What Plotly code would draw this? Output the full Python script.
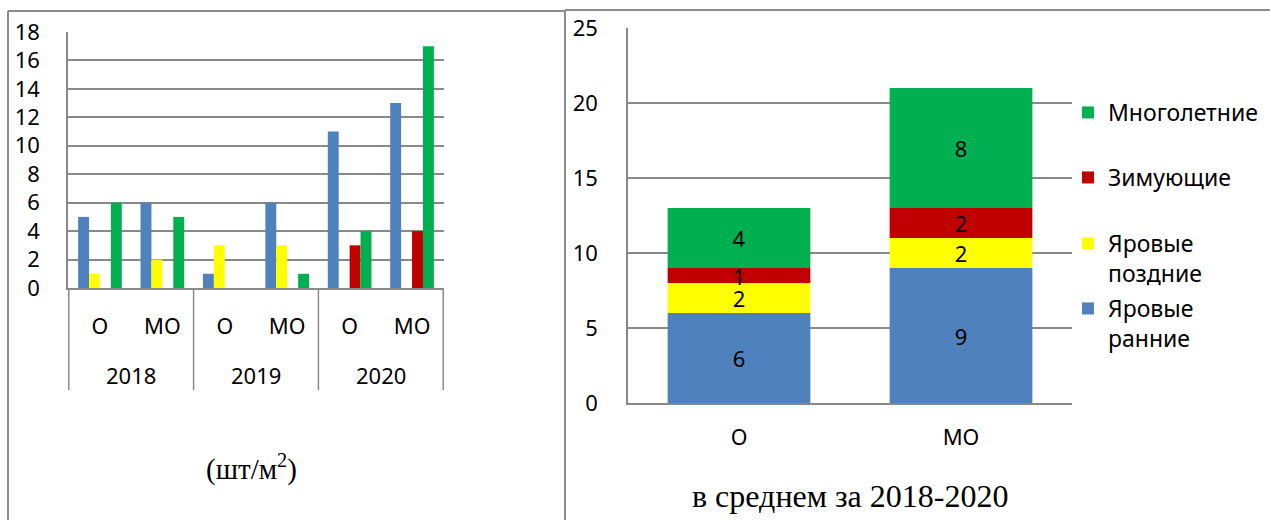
import plotly.graph_objects as go

# --- data -------------------------------------------------------------
years = ["2018", "2019", "2020"]
plots = ["О", "МО"]
series_names = ["Яровые ранние", "Яровые поздние", "Зимующие", "Многолетние"]
series_colors = ["#4F81BD", "#FFFF00", "#C00000", "#00B050"]

# density by year and plot (шт/м²), order: 2018 О, 2018 МО, 2019 О, ...
early = [5, 6, 1, 6, 11, 13]
late = [1, 2, 3, 3, 0, 0]
winter = [0, 0, 0, 0, 3, 4]
perennial = [6, 5, 0, 1, 4, 17]

# averages for 2018-2020
avg_plots = ["О", "МО"]
avg_early = [6, 9]
avg_late = [2, 2]
avg_winter = [1, 2]
avg_perennial = [4, 8]

left_ticks = [0, 2, 4, 6, 8, 10, 12, 14, 16, 18]
right_ticks = [0, 5, 10, 15, 20, 25]

# --- helpers ----------------------------------------------------------
W, H = 1270, 520
def px(x):
    return x / W
def py(y):
    return 1 - y / H

GRID = "#898989"
FONT = "Noto Sans"
SERIF = "Liberation Serif"

keys = [f"{y} {p}" for y in years for p in plots]
labels = [p for y in years for p in plots]

fig = go.Figure()

# left: grouped bars per year/plot
for name, color, vals in zip(series_names, series_colors,
                             [early, late, winter, perennial]):
    fig.add_trace(go.Bar(
        x=keys, y=vals, name=name, marker_color=color,
        marker_line_width=0, showlegend=False,
        xaxis="x", yaxis="y",
    ))

# right: stacked averages (bases accumulated from the series below)
avg_series = [avg_early, avg_late, avg_winter, avg_perennial]
legend_ids = ["legend4", "legend3", "legend2", "legend"]
legend_text = ["Яровые<br>ранние", "Яровые<br>поздние", "Зимующие", "Многолетние"]
base = [0] * len(avg_plots)
for name, color, vals, lg, lt in zip(series_names, series_colors, avg_series,
                                     legend_ids, legend_text):
    fig.add_trace(go.Bar(
        x=avg_plots, y=vals, base=list(base), name=lt,
        marker_color=color, marker_line_width=0, width=0.643,
        offsetgroup="avg", legend=lg,
        text=[str(v) for v in vals], textposition="inside",
        insidetextanchor="middle", textangle=0, constraintext="none",
        textfont=dict(family=FONT, size=22, color="black"),
        xaxis="x2", yaxis="y2",
    ))
    base = [b + v for b, v in zip(base, vals)]

axis_font = dict(family=FONT, size=22, color="black")

legend_common = dict(
    xanchor="left", yanchor="top", x=px(1068),
    bgcolor="rgba(0,0,0,0)", borderwidth=0, valign="top",
    font=dict(family=FONT, size=23, color="black"),
)

shapes = []
# year dividers under the left category axis
for xv in [-0.5, 1.5, 3.5, 5.5]:
    shapes.append(dict(type="line", xref="x", yref="paper",
                       x0=xv, x1=xv, y0=py(390), y1=py(288),
                       line=dict(color=GRID, width=1.5)))
# panel frames
frame = dict(color="#8c8c8c", width=2)
shapes += [
    dict(type="line", xref="paper", yref="paper", x0=px(8), x1=px(8),
         y0=0, y1=py(11), line=frame),
    dict(type="line", xref="paper", yref="paper", x0=px(8), x1=px(565),
         y0=py(11), y1=py(11), line=frame),
    dict(type="line", xref="paper", yref="paper", x0=px(565), x1=px(565),
         y0=0, y1=py(10), line=frame),
    dict(type="line", xref="paper", yref="paper", x0=px(565), x1=1,
         y0=py(10), y1=py(10), line=frame),
]

annotations = [
    dict(text=y, xref="x", yref="paper", x=2 * i + 0.5, y=py(375),
         xanchor="center", yanchor="middle", showarrow=False,
         font=dict(family=FONT, size=22, color="black"))
    for i, y in enumerate(years)
]
annotations += [
    dict(text="(шт/м<sup>2</sup>)", xref="paper", yref="paper",
         x=px(251), y=py(467), xanchor="center", yanchor="middle",
         showarrow=False,
         font=dict(family=SERIF, size=29, color="black")),
    dict(text="в среднем за 2018-2020", xref="paper", yref="paper",
         x=px(850), y=py(496), xanchor="center", yanchor="middle",
         showarrow=False,
         font=dict(family=SERIF, size=32, color="black")),
]

fig.update_layout(
    width=W, height=H,
    margin=dict(l=0, r=0, t=0, b=0, autoexpand=False),
    paper_bgcolor="white", plot_bgcolor="white",
    barmode="group", bargap=0.3, bargroupgap=0,
    xaxis=dict(domain=[px(68), px(444)], type="category", automargin=False,
               categoryorder="array", categoryarray=keys,
               tickmode="array", tickvals=keys, ticktext=labels,
               tickfont=axis_font, ticks="", ticklabelstandoff=18,
               showline=True, linecolor=GRID, linewidth=1.5,
               showgrid=False, fixedrange=True),
    yaxis=dict(domain=[py(288), py(32)], range=[0, 18], automargin=False,
               tickmode="array", tickvals=left_ticks,
               tickfont=axis_font, ticks="", ticklabelstandoff=22,
               showline=True, linecolor=GRID, linewidth=1.5,
               showgrid=True, gridcolor=GRID, gridwidth=1.5,
               zeroline=False, fixedrange=True),
    xaxis2=dict(domain=[px(628), px(1072)], anchor="y2", type="category",
                automargin=False,
                tickfont=axis_font, ticks="", ticklabelstandoff=14,
                showline=True, linecolor=GRID, linewidth=1.5,
                showgrid=False, fixedrange=True),
    yaxis2=dict(domain=[py(403), py(28)], anchor="x2", range=[0, 25],
                automargin=False,
                tickmode="array", tickvals=right_ticks,
                tickfont=axis_font, ticks="", ticklabelstandoff=24,
                showline=True, linecolor=GRID, linewidth=1.5,
                showgrid=True, gridcolor=GRID, gridwidth=1.5,
                zeroline=False, fixedrange=True),
    legend=dict(legend_common, y=py(91)),
    legend2=dict(legend_common, y=py(156)),
    legend3=dict(legend_common, y=py(222)),
    legend4=dict(legend_common, y=py(287)),
    shapes=shapes,
    annotations=annotations,
)

fig.write_html("out.html")
